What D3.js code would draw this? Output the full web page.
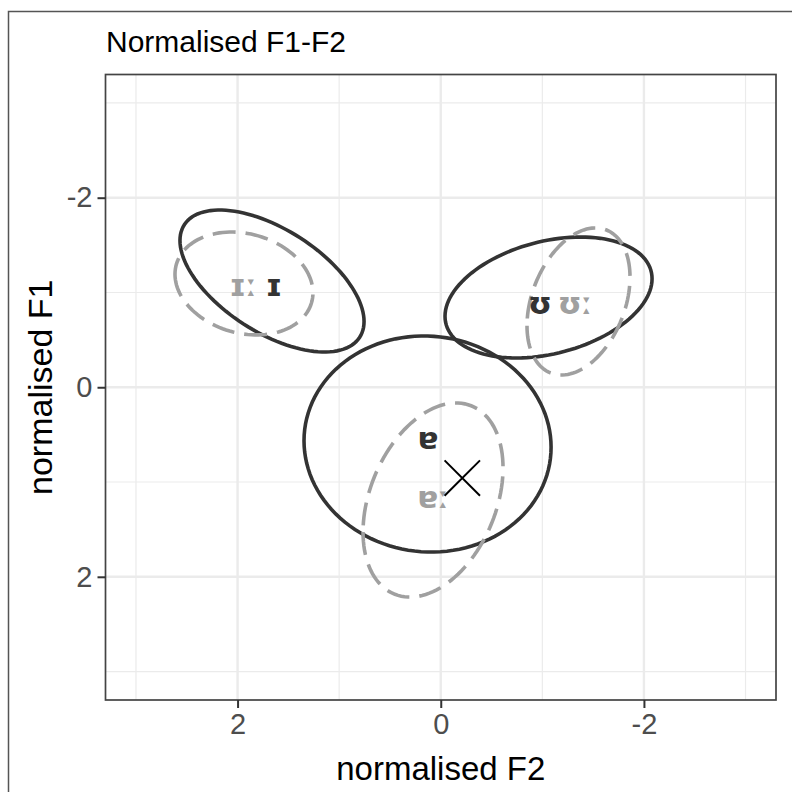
<!DOCTYPE html>
<html>
<head>
<meta charset="utf-8">
<script src="https://cdn.jsdelivr.net/npm/d3@7"></script>
<style>
  body { margin: 0; background: #fff; }
  svg text { font-family: "Liberation Sans", Arial, sans-serif; }
</style>
</head>
<body>
<div id="chart"></div>
<script>
// vowel ellipses, in normalised units (F2 across, F1 down)
const vowels   = ["ɪ", "ɪː", "ʊ", "ʊː", "ɐ", "ɐː"];
const isLong   = [false, true, false, true, false, true];
const centreF2 = [1.661, 1.937, -1.061, -1.356, 0.130, 0.076];
const centreF1 = [-1.121, -1.095, -0.947, -0.905, 0.599, 1.190];
const spreadF2 = [0.906, 0.679, 1.019, 0.507, 1.216, 0.689];
const spreadF1 = [0.749, 0.543, 0.638, 0.776, 1.140, 1.024];
const corr     = [-0.57, -0.18, 0.31, 0.33, -0.03, 0.33];
const labelF2  = [1.641, 1.946, -0.977, -1.321, 0.126, 0.076];
const labelF1  = [-1.076, -1.076, -0.894, -0.894, 0.536, 1.158];
// the one token marked with a cross
const crossF2 = [-0.212];
const crossF1 = [0.958];

const majorTicks = [-2, 0, 2];
const minorTicks = [-3, -1, 1, 3];
const limits = [-3.3, 3.3];

const width = 792, height = 792;
const panel = {left: 105.5, right: 776, top: 74.5, bottom: 700};

const svg = d3.select("#chart").append("svg")
    .attr("width", width)
    .attr("height", height);

// outer frame of the cropped figure
svg.append("rect")
    .attr("x", 8.5).attr("y", 11.5)
    .attr("width", 800).attr("height", 800)
    .attr("fill", "#fff")
    .attr("stroke", "#555")
    .attr("stroke-width", 1.5);

const x = d3.scaleLinear().domain([limits[1], limits[0]]).range([panel.left, panel.right]);
const y = d3.scaleLinear().domain(limits).range([panel.top, panel.bottom]);

const g = svg.append("g");

// grid
g.selectAll(".vminor").data(minorTicks).enter().append("line")
    .attr("x1", d => x(d)).attr("x2", d => x(d))
    .attr("y1", panel.top).attr("y2", panel.bottom)
    .attr("stroke", "#ebebeb").attr("stroke-width", 1.2);
g.selectAll(".hminor").data(minorTicks).enter().append("line")
    .attr("y1", d => y(d)).attr("y2", d => y(d))
    .attr("x1", panel.left).attr("x2", panel.right)
    .attr("stroke", "#ebebeb").attr("stroke-width", 1.2);
g.selectAll(".vmajor").data(majorTicks).enter().append("line")
    .attr("x1", d => x(d)).attr("x2", d => x(d))
    .attr("y1", panel.top).attr("y2", panel.bottom)
    .attr("stroke", "#ebebeb").attr("stroke-width", 2.4);
g.selectAll(".hmajor").data(majorTicks).enter().append("line")
    .attr("y1", d => y(d)).attr("y2", d => y(d))
    .attr("x1", panel.left).attr("x2", panel.right)
    .attr("stroke", "#ebebeb").attr("stroke-width", 2.4);

// ellipses
const steps = d3.range(0, 120).map(i => i / 120 * 2 * Math.PI);
function outline(i) {
    const k = Math.sqrt(1 - corr[i] * corr[i]);
    return steps.map(t => [
        x(centreF2[i] + spreadF2[i] * Math.cos(t)),
        y(centreF1[i] + spreadF1[i] * (corr[i] * Math.cos(t) + k * Math.sin(t)))
    ]);
}
const line = d3.line().curve(d3.curveLinearClosed);
const order = d3.range(vowels.length).sort((a, b) => isLong[a] - isLong[b]);

g.selectAll(".ell").data(order).enter().append("path")
    .attr("d", i => line(outline(i)))
    .attr("fill", "none")
    .attr("stroke", i => isLong[i] ? "#a0a0a0" : "#333333")
    .attr("stroke-width", 3.6)
    .attr("stroke-dasharray", i => isLong[i] ? "23,10" : null);

// labels
g.selectAll(".lab").data(d3.range(vowels.length)).enter().append("text")
    .attr("x", i => x(labelF2[i]))
    .attr("y", i => y(labelF1[i]))
    .attr("text-anchor", "middle")
    .attr("dominant-baseline", "central")
    .style("font-family", "'DejaVu Sans', sans-serif")
    .style("font-weight", "bold")
    .style("font-size", "31px")
    .attr("fill", i => isLong[i] ? "#a0a0a0" : "#333333")
    .text(i => vowels[i]);

// cross marker
g.selectAll(".cross").data(crossF2).enter().append("path")
    .attr("transform", (d, i) => "translate(" + x(d) + "," + y(crossF1[i]) + ")")
    .attr("d", d3.symbol(d3.symbolTimes, 820)())
    .attr("fill", "none")
    .attr("stroke", "#000")
    .attr("stroke-width", 2);

// panel border
svg.append("rect")
    .attr("x", panel.left).attr("y", panel.top)
    .attr("width", panel.right - panel.left)
    .attr("height", panel.bottom - panel.top)
    .attr("fill", "none")
    .attr("stroke", "#444")
    .attr("stroke-width", 1.7);

// axes
const xAxis = svg.append("g")
    .attr("transform", "translate(0," + panel.bottom + ")")
    .call(d3.axisBottom(x).tickValues(majorTicks).tickSize(8).tickPadding(5).tickFormat(d3.format("d")));
const yAxis = svg.append("g")
    .attr("transform", "translate(" + panel.left + ",0)")
    .call(d3.axisLeft(y).tickValues(majorTicks).tickSize(8).tickPadding(5).tickFormat(d3.format("d")));
[xAxis, yAxis].forEach(a => {
    a.select(".domain").remove();
    a.selectAll(".tick line").attr("stroke", "#333").attr("stroke-width", 2);
    a.selectAll(".tick text")
        .style("font-family", "'Liberation Sans', Arial, sans-serif")
        .style("font-size", "29px")
        .attr("fill", "#4d4d4d");
});
// d3 uses a minus sign; the reference uses a hyphen
svg.selectAll(".tick text").text(d => String(d));

// titles
svg.append("text")
    .attr("x", 106).attr("y", 52)
    .style("font-size", "30px")
    .attr("fill", "#000")
    .text("Normalised F1-F2");
svg.append("text")
    .attr("x", (panel.left + panel.right) / 2).attr("y", 780)
    .attr("text-anchor", "middle")
    .style("font-size", "33px")
    .attr("fill", "#000")
    .text("normalised F2");
svg.append("text")
    .attr("transform", "translate(52," + (panel.top + panel.bottom) / 2 + ") rotate(-90)")
    .attr("text-anchor", "middle")
    .style("font-size", "34px")
    .attr("fill", "#000")
    .text("normalised F1");
</script>
</body>
</html>
